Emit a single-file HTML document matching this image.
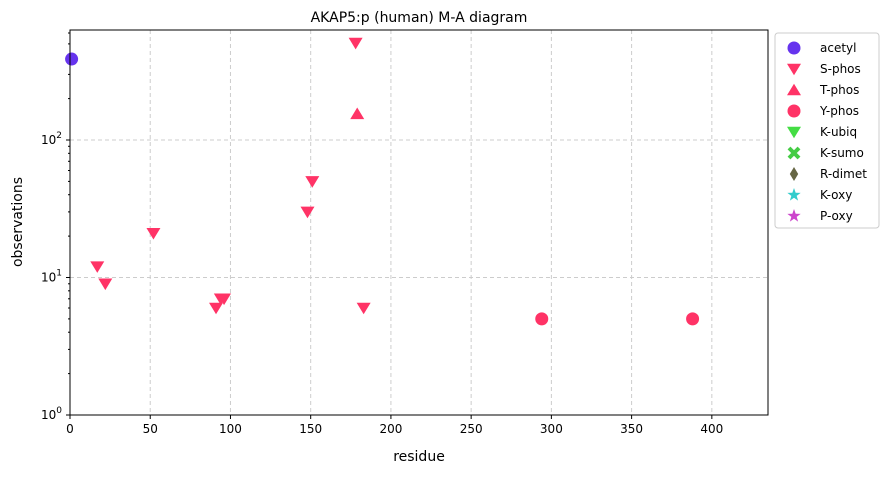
<!DOCTYPE html>
<html><head><meta charset="utf-8"><style>
body{margin:0;background:#fff;font-family:"Liberation Sans","DejaVu Sans",sans-serif}
svg text{font-family:"DejaVu Sans","Liberation Sans",sans-serif}
</style></head><body>
<svg id="chart" width="889" height="474" viewBox="0 0 889 474">
<rect width="889" height="474" fill="#fff"/>
<text x="419" y="22" font-size="14" text-anchor="middle">AKAP5:p (human) M-A diagram</text>
<g id="grid"></g>
<g id="axes"></g>
<g id="marks"></g>
<rect x="70" y="30" width="698" height="385" fill="none" stroke="#000" stroke-width="1"/>
<text x="419" y="461" font-size="14" text-anchor="middle">residue</text>
<text x="22" y="222" font-size="14" text-anchor="middle" transform="rotate(-90 22 222)">observations</text>
<g id="legend"></g>
</svg>
<script>
const xTicks=[0,50,100,150,200,250,300,350,400];
const yTicks=[0,1,2];
const acetylX=[1], acetylY=[388];
const sphosX=[178,17,22,52,91,94,96,148,151,183];
const sphosY=[507,12,9,21,6,7,7,30,50,6];
const tphosX=[179], tphosY=[155];
const yphosX=[294,388], yphosY=[5,5];
const legendLabels=["acetyl","S-phos","T-phos","Y-phos","K-ubiq","K-sumo","R-dimet","K-oxy","P-oxy"];
const legendShapes=["circle","tdown","tup","circle","tdown","x","diamond","star","star"];
const legendColors=["#6633ee","#ff3366","#ff3366","#ff3366","#44dd44","#44cc44","#666644","#33cccc","#cc44cc"];

const NS="http://www.w3.org/2000/svg";
const X0=70,X1=768,Y0=415,Y1=30,XMAX=435,DEC=137.5;
const sx=v=>X0+v*(X1-X0)/XMAX;
const sy=v=>Y0-Math.log10(v)*DEC;
function mk(t,a,p){const e=document.createElementNS(NS,t);for(const k in a)e.setAttribute(k,a[k]);p.appendChild(e);return e;}
const grid=document.getElementById('grid'),axes=document.getElementById('axes'),marks=document.getElementById('marks'),legend=document.getElementById('legend');
xTicks.forEach(t=>{const x=sx(t);
 if(t>0){const g=mk('line',{x1:x,x2:x,y1:Y1,y2:Y0,stroke:'#ccc','stroke-dasharray':'4,3'},grid);}
 const l=mk('line',{x1:x,x2:x,y1:Y0,y2:Y0+4,stroke:'#000'},axes);
 const tx=mk('text',{x:x,y:Y0+18,'font-size':12,'text-anchor':'middle'},axes);tx.textContent=t;});
yTicks.forEach(p=>{const y=sy(Math.pow(10,p));
 if(p>0){const g=mk('line',{x1:X0,x2:X1,y1:y,y2:y,stroke:'#ccc','stroke-dasharray':'4,3'},grid);}
 const l=mk('line',{x1:X0-4,x2:X0,y1:y,y2:y,stroke:'#000'},axes);
 const tx=mk('text',{x:X0-8,y:y+4,'font-size':12,'text-anchor':'end'},axes);tx.innerHTML='10<tspan dy="-6" font-size="9">'+p+'</tspan>';
 for(let k=2;k<10&&p<2||(p==2&&k<7);k++){const yy=sy(Math.pow(10,p)*k);const m=mk('line',{x1:X0-2,x2:X0,y1:yy,y2:yy,stroke:'#000'},axes);}});
function shape(kind,x,y,c,par,r){
 r=r||7;let e;
 if(kind==='circle')e=mk('circle',{cx:x,cy:y,r:r-0.5,fill:c},par);
 else if(kind==='tdown')e=mk('polygon',{points:`${x-r},${y-r*0.75} ${x+r},${y-r*0.75} ${x},${y+r*0.9}`,fill:c},par);
 else if(kind==='tup')e=mk('polygon',{points:`${x-r},${y+r*0.75} ${x+r},${y+r*0.75} ${x},${y-r*0.9}`,fill:c},par);
 else if(kind==='x')e=mk('path',{d:`M${x-5},${y-5}L${x+5},${y+5}M${x+5},${y-5}L${x-5},${y+5}`,stroke:c,'stroke-width':4},par);
 else if(kind==='diamond')e=mk('polygon',{points:`${x},${y-r} ${x+r*0.6},${y} ${x},${y+r} ${x-r*0.6},${y}`,fill:c},par);
 else {let pts=[];for(let i=0;i<10;i++){const a=-Math.PI/2+i*Math.PI/5,rr=i%2?r*0.4:r;pts.push((x+rr*Math.cos(a))+','+(y+rr*Math.sin(a)));}e=mk('polygon',{points:pts.join(' '),fill:c},par);}
 return e;}
function series(xs,ys,kind,c,name){xs.forEach((v,i)=>{const e=shape(kind,sx(v),sy(ys[i]),c,marks);
 
 });}
series(acetylX,acetylY,'circle','#6633ee','acetyl');
series(sphosX,sphosY,'tdown','#ff3366','s-phos');
series(tphosX,tphosY,'tup','#ff3366','t-phos');
series(yphosX,yphosY,'circle','#ff3366','y-phos');
const lb=mk('rect',{x:775,y:33,width:104,height:195,rx:3,fill:'#fff',stroke:'#ccc'},legend);


legendLabels.forEach((t,i)=>{const y=48+i*21;
 const g=mk('g',{},legend);
 
 
 shape(legendShapes[i],794,y,legendColors[i],g,7);
 const tx=mk('text',{x:820,y:y+4,'font-size':12},g);tx.textContent=t;});
</script>
</body></html>
